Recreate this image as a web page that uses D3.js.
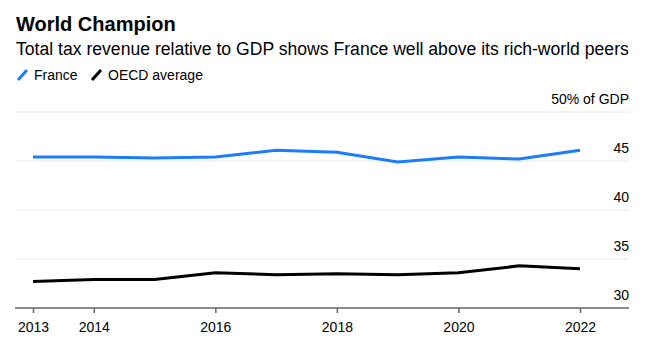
<!DOCTYPE html>
<html>
<head>
<meta charset="utf-8">
<script src="https://cdn.jsdelivr.net/npm/d3@7"></script>
<style>
  html, body { margin: 0; padding: 0; background: #fff; }
  svg { display: block; font-family: "Liberation Sans", Arial, sans-serif; }
</style>
</head>
<body>
<div id="container"></div>
<script>
// tax revenue as % of GDP
var years = [2013, 2014, 2015, 2016, 2017, 2018, 2019, 2020, 2021, 2022]
var france = [45.4, 45.4, 45.3, 45.4, 46.1, 45.9, 44.9, 45.4, 45.2, 46.1]
var oecd = [32.7, 32.9, 32.9, 33.6, 33.4, 33.5, 33.4, 33.6, 34.3, 34.0]
var yearTicks = [2013, 2014, 2016, 2018, 2020, 2022]
var valueTicks = [30, 35, 40, 45, 50]

var WIDTH = 653
var HEIGHT = 348

var svg = d3.select('div#container').append('svg')
  .attr('width', WIDTH)
  .attr('height', HEIGHT)

// header
svg.append('text')
  .attr('x', 16).attr('y', 31)
  .attr('font-size', 20).attr('font-weight', 'bold')
  .attr('fill', '#000')
  .text('World Champion')

svg.append('text')
  .attr('x', 16).attr('y', 55)
  .attr('font-size', 17.6)
  .attr('fill', '#000')
  .text('Total tax revenue relative to GDP shows France well above its rich-world peers')

// legend
var legend = [
  {name: 'France', color: '#1a7cff', x: 16},
  {name: 'OECD average', color: '#000', x: 90}
]
var lg = svg.selectAll('g.legend').data(legend).enter().append('g')
  .attr('class', 'legend')
  .attr('transform', function (d) { return 'translate(' + d.x + ',0)' })
lg.append('line')
  .attr('x1', 2).attr('y1', 80).attr('x2', 11).attr('y2', 70)
  .attr('stroke', function (d) { return d.color })
  .attr('stroke-width', 3)
lg.append('text')
  .attr('x', 18).attr('y', 80)
  .attr('font-size', 14)
  .text(function (d) { return d.name })

var x = d3.scaleLinear().domain([2013, 2022]).range([33, 580])
var y = d3.scaleLinear().domain([30, 50]).range([308, 112])

var left = 15
var right = 629

// gridlines (the 30 line is the axis)
svg.append('g').selectAll('line')
  .data(valueTicks.filter(function (v) { return v > 30 }))
  .enter().append('line')
  .attr('x1', left).attr('x2', right)
  .attr('y1', function (d) { return y(d) }).attr('y2', function (d) { return y(d) })
  .attr('stroke', '#e8e8e8')
  .attr('stroke-width', 1)

svg.append('g').selectAll('text')
  .data(valueTicks)
  .enter().append('text')
  .attr('x', right)
  .attr('y', function (d) { return y(d) - 8 })
  .attr('text-anchor', 'end')
  .attr('font-size', 14)
  .text(function (d) { return d === 50 ? '50% of GDP' : d })

// lines
var line = function (vals) {
  return d3.line()
    .x(function (d, i) { return x(years[i]) })
    .y(function (d) { return y(d) })(vals)
}

svg.append('path')
  .attr('d', line(oecd))
  .attr('fill', 'none')
  .attr('stroke', '#000')
  .attr('stroke-width', 3)

svg.append('path')
  .attr('d', line(france))
  .attr('fill', 'none')
  .attr('stroke', '#1a7cff')
  .attr('stroke-width', 3)

// x axis
var xAxis = svg.append('g')
  .attr('transform', 'translate(0,' + y(30) + ')')
  .call(d3.axisBottom(x).tickValues(yearTicks).tickFormat(d3.format('d')).tickSize(5).tickPadding(9))
xAxis.select('.domain').remove()
xAxis.insert('line', ':first-child')
  .attr('x1', left).attr('x2', right)
  .attr('stroke', '#666').attr('stroke-width', 1.5)
xAxis.selectAll('.tick line').attr('stroke', '#666').attr('stroke-width', 1.5)
xAxis.selectAll('.tick text')
  .attr('font-size', 14)
  .attr('font-family', '"Liberation Sans", Arial, sans-serif')
  .attr('fill', '#000')
</script>
</body>
</html>
